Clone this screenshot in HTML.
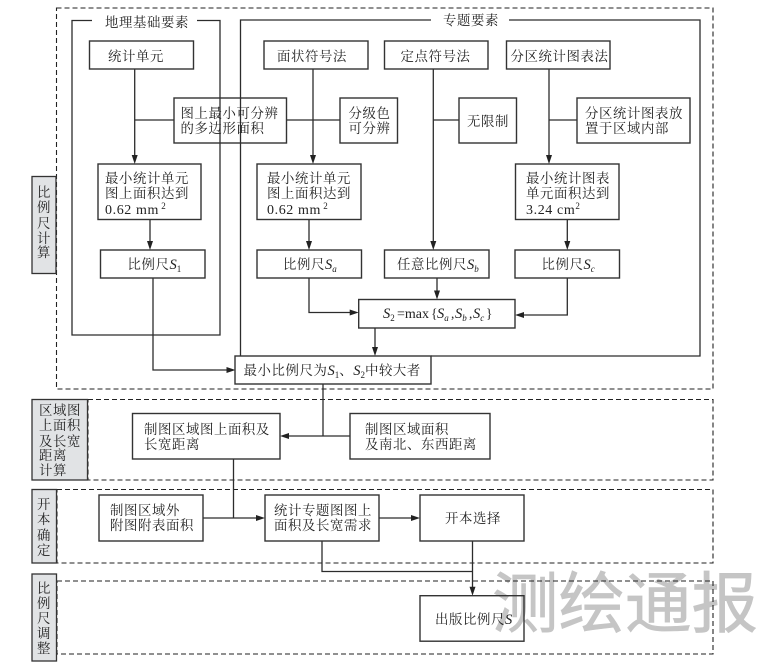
<!DOCTYPE html>
<html lang="zh"><head><meta charset="utf-8">
<style>
html,body{margin:0;padding:0;background:#fff;width:775px;height:665px;overflow:hidden}
svg{display:block;filter:blur(.35px)}
text{font-family:"Liberation Serif","Noto Serif CJK SC",serif;font-size:13.4px;letter-spacing:.6px;fill:#222}
.v text,text.c{text-anchor:middle}
.m{font-family:"Liberation Serif",serif;font-style:italic;letter-spacing:0;font-size:14.5px}
.s{font-family:"Liberation Serif",serif;letter-spacing:0;font-size:9px}
.wm{font-family:"Liberation Sans","Noto Sans CJK SC",sans-serif;font-size:66.5px;letter-spacing:0;fill:#c5c5c5;stroke:#c5c5c5;stroke-width:.7}
.b rect{fill:none;stroke:#333;stroke-width:1.4}
.d rect{fill:none;stroke:#222;stroke-width:1.1;stroke-dasharray:5 3}
.l path{fill:none;stroke:#2c2c2c;stroke-width:1.3}
.lab rect{fill:#e1e3e5;stroke:#333;stroke-width:1.3}
.a path{fill:#222;stroke:none}
</style></head><body>
<svg width="775" height="665" viewBox="0 0 775 665" xmlns="http://www.w3.org/2000/svg">
<rect width="775" height="665" fill="#fff"/>
<text class="wm" x="492" y="627">测绘通报</text>
<g class="d">
<rect x="56.5" y="8" width="656.5" height="381"/>
<rect x="88" y="399.5" width="625" height="80.5"/>
<rect x="57" y="489.5" width="656" height="73.5"/>
<rect x="57" y="581" width="656" height="73"/>
</g>
<g class="lab">
<rect x="32" y="176.5" width="24" height="97"/>
<rect x="32" y="399.5" width="55.5" height="80.5"/>
<rect x="32" y="489.5" width="24.5" height="73.5"/>
<rect x="32" y="574" width="24.5" height="87"/>
</g>
<g class="l">
<path d="M92 20.5H72V335H220V20.5H197"/>
<path d="M431 20H240.5V356M509 20H700V356H431"/>
<path d="M134.7 69V158M134.7 120H174"/>
<path d="M286.5 120H340M313 69V158"/>
<path d="M150 219.5V244M309 219.5V244"/>
<path d="M153 278V370H228M309 278V312.5H352"/>
<path d="M433.3 69V244M433.3 120H459"/>
<path d="M549 69V158M549 120H577"/>
<path d="M567.3 219.5V244M567.3 278V315H522"/>
<path d="M437 278V293M375 328V350"/>
<path d="M323 384V436M350 436H287"/>
<path d="M233.5 459V518M203 518H258M379 518H413"/>
<path d="M322 541V571.5H472M472.5 541V589"/>
</g>
<g class="a">
<path d="M134.7 164l-3-9h6zM313 164l-3-9h6zM150 250l-3-9h6zM309 250l-3-9h6zM433.3 250l-3-9h6zM549 164l-3-9h6zM567.3 250l-3-9h6zM437 299.5l-3-9h6zM375 356l-3-9h6zM472.5 595.7l-3-9h6z"/>
<path d="M235.5 370l-9-3v6zM358.7 312.5l-9-3v6zM515 315l9-3v6zM280 436l9-3v6zM265 518l-9-3v6zM420 518l-9-3v6z"/>
</g>
<g class="b">
<rect x="89.5" y="41" width="104" height="28"/>
<rect x="264" y="41" width="104" height="28"/>
<rect x="384.5" y="41" width="103.5" height="28"/>
<rect x="506.5" y="41" width="103.5" height="28"/>
<rect x="174" y="98" width="112.5" height="45"/>
<rect x="340" y="98" width="57.5" height="45"/>
<rect x="459" y="98" width="57.5" height="45"/>
<rect x="577" y="98" width="113" height="45"/>
<rect x="98" y="164" width="103" height="55.5"/>
<rect x="257" y="164" width="104" height="55.5"/>
<rect x="515.5" y="164" width="103.5" height="55.5"/>
<rect x="100.5" y="250" width="104.5" height="28"/>
<rect x="257" y="250" width="104.5" height="28"/>
<rect x="384.5" y="250" width="104.5" height="28"/>
<rect x="515" y="250" width="104.5" height="28"/>
<rect x="358.7" y="299.5" width="156.3" height="28.5"/>
<rect x="235" y="356" width="196" height="28"/>
<rect x="132.5" y="413.5" width="147.5" height="45.5"/>
<rect x="350" y="413.5" width="140" height="45.5"/>
<rect x="99" y="495" width="104" height="46"/>
<rect x="265" y="495" width="114" height="46"/>
<rect x="420" y="495" width="104" height="46"/>
<rect x="420" y="595.7" width="104" height="45.5"/>
</g>
<text x="105" y="27">地理基础要素</text>
<text x="443" y="25">专题要素</text>
<text x="108" y="61">统计单元</text>
<text x="277" y="61">面状符号法</text>
<text x="400.5" y="61">定点符号法</text>
<text x="510.5" y="61">分区统计图表法</text>
<text x="180.5" y="118">图上最小可分辨</text>
<text x="180.5" y="133">的多边形面积</text>
<text x="348.5" y="118">分级色</text>
<text x="348.5" y="133">可分辨</text>
<text x="467" y="126">无限制</text>
<text x="585" y="118">分区统计图表放</text>
<text x="585" y="133">置于区域内部</text>
<text x="105" y="183">最小统计单元</text>
<text x="105" y="198">图上面积达到</text>
<text x="105" y="214" style="letter-spacing:.6px;font-size:14px">0.62 mm<tspan class="s" dy="-5"> 2</tspan></text>
<text x="267" y="183">最小统计单元</text>
<text x="267" y="198">图上面积达到</text>
<text x="267" y="214" style="letter-spacing:.6px;font-size:14px">0.62 mm<tspan class="s" dy="-5"> 2</tspan></text>
<text x="526" y="183">最小统计图表</text>
<text x="526" y="198">单元面积达到</text>
<text x="526" y="214" style="letter-spacing:.6px;font-size:14px">3.24 cm<tspan class="s" dy="-5">2</tspan></text>
<text x="127.5" y="269">比例尺<tspan class="m">S</tspan><tspan class="s" dy="3">1</tspan></text>
<text x="283" y="269">比例尺<tspan class="m">S</tspan><tspan class="s" dy="3" style="font-style:italic">a</tspan></text>
<text x="397" y="269">任意比例尺<tspan class="m">S</tspan><tspan class="s" dy="3" style="font-style:italic">b</tspan></text>
<text x="541.5" y="269">比例尺<tspan class="m">S</tspan><tspan class="s" dy="3" style="font-style:italic">c</tspan></text>
<text y="318" style="letter-spacing:0"><tspan class="m" x="383">S</tspan><tspan class="s" dy="3">2</tspan><tspan dy="-3" x="397" style="font-size:14px">=max</tspan><tspan x="431">{</tspan><tspan class="m" x="437">S</tspan><tspan class="s" dy="3" style="font-style:italic">a</tspan><tspan dy="-3" x="451">,</tspan><tspan class="m" x="455">S</tspan><tspan class="s" dy="3" style="font-style:italic">b</tspan><tspan dy="-3" x="469">,</tspan><tspan class="m" x="473">S</tspan><tspan class="s" dy="3" style="font-style:italic">c</tspan><tspan dy="-3" x="486">}</tspan></text>
<text x="243.5" y="375">最小比例尺为<tspan class="m">S</tspan><tspan class="s" dy="3">1</tspan><tspan dy="-3">、</tspan><tspan class="m">S</tspan><tspan class="s" dy="3">2</tspan><tspan dy="-3">中较大者</tspan></text>
<text x="144" y="434">制图区域图上面积及</text>
<text x="144" y="449">长宽距离</text>
<text x="365" y="434">制图区域面积</text>
<text x="365" y="449">及南北、东西距离</text>
<text x="110" y="515">制图区域外</text>
<text x="110" y="530">附图附表面积</text>
<text x="274" y="515">统计专题图图上</text>
<text x="274" y="530">面积及长宽需求</text>
<text x="445" y="523">开本选择</text>
<text x="435" y="624">出版比例尺<tspan class="m">S</tspan></text>
<g class="v">
<text x="44" y="197">比</text><text x="44" y="212">例</text><text x="44" y="228">尺</text><text x="44" y="243">计</text><text x="44" y="257">算</text>
<text x="60" y="415">区域图</text><text x="60" y="430">上面积</text><text x="60" y="446">及长宽</text><text x="53" y="460">距离</text><text x="53" y="475">计算</text>
<text x="44" y="509">开</text><text x="44" y="524">本</text><text x="44" y="540">确</text><text x="44" y="555">定</text>
<text x="44" y="593">比</text><text x="44" y="608">例</text><text x="44" y="623">尺</text><text x="44" y="638">调</text><text x="44" y="653">整</text>
</g>
</svg>
</body></html>
